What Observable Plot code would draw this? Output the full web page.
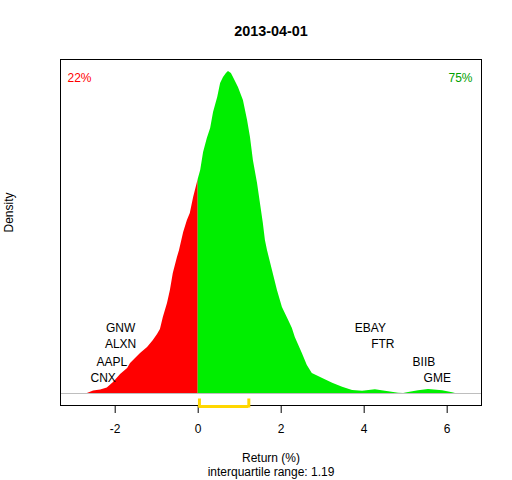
<!DOCTYPE html>
<html>
<head>
<meta charset="utf-8">
<script src="https://cdn.jsdelivr.net/npm/d3@7"></script>
<script src="https://cdn.jsdelivr.net/npm/@observablehq/plot@0.6"></script>
<style>
  html, body { margin: 0; padding: 0; background: white; }
</style>
</head>
<body>
<div id="chart"></div>
<script>
// Density of returns (%) on 2013-04-01
const returns = [-2.67, -2.52, -2.35, -2.19, -2.04, -1.87, -1.70, -1.63, -1.51, -1.39, -1.22, -1.08, -0.98, -0.91, -0.84, -0.79, -0.74, -0.67, -0.60, -0.50, -0.45, -0.35, -0.26, -0.19, -0.11, 0.00,
  0.06, 0.13, 0.22, 0.30, 0.37, 0.47, 0.54, 0.61, 0.68, 0.73, 0.80, 0.85, 0.97, 1.09, 1.19, 1.26, 1.33, 1.43, 1.50, 1.57, 1.62, 1.67, 1.79, 1.91, 2.03, 2.18, 2.27, 2.34, 2.51, 2.63, 2.75, 3.00, 3.24, 3.48, 3.72, 3.96, 4.27, 4.59, 4.83, 4.95, 5.07, 5.31, 5.55, 5.89, 6.13, 6.20];
const density = [0, 0.0033, 0.0046, 0.0072, 0.0143, 0.0248, 0.0326, 0.0391, 0.0457, 0.0522, 0.0600, 0.0691, 0.0770, 0.0835, 0.0991, 0.1083, 0.1174, 0.1343, 0.1565, 0.1774, 0.1865, 0.2100, 0.2256, 0.2348, 0.2556, 0.2791,
  0.2909, 0.3143, 0.3326, 0.3456, 0.3665, 0.3861, 0.4043, 0.4122, 0.4174, 0.4200, 0.4174, 0.4122, 0.3991, 0.3822, 0.3561, 0.3339, 0.3039, 0.2739, 0.2478, 0.2217, 0.1996, 0.1865, 0.1604, 0.1343, 0.1122, 0.0952, 0.0848, 0.0730, 0.0522, 0.0365, 0.0261, 0.0196, 0.0134, 0.0082, 0.0039, 0.0030, 0.0048, 0.0022, 0.0004, 0, 0.0013, 0.0035, 0.0052, 0.0035, 0.0009, 0];

const leftTickers = ["GNW", "ALXN", "AAPL", "CNX"];
const leftX = [-1.87, -1.87, -2.08, -2.29];
const rightTickers = ["EBAY", "FTR", "BIIB", "GME"];
const rightX = [4.15, 4.45, 5.44, 5.76];
const labelY = [0.085, 0.064, 0.041, 0.020];

const xTicks = [-2, 0, 2, 4, 6];
const pctBelow = "22%";
const pctAbove = "75%";
const q1 = 0.03, q3 = 1.22;
const iqrText = "interquartile range: 1.19";
const title = "2013-04-01";
const xLabel = "Return (%)";
const yLabel = "Density";

const xDomain = [-3.318, 6.827];
const yDomain = [-0.01565, 0.43565];

const pts = returns.map((x, i) => ({x, y: density[i]}));
const neg = pts.filter(d => d.x <= 0);
const pos = pts.filter(d => d.x >= 0);
const leftLabels = leftTickers.map((t, i) => ({t, x: leftX[i], y: labelY[i]}));
const rightLabels = rightTickers.map((t, i) => ({t, x: rightX[i], y: labelY[i]}));

const font = "'Liberation Sans', Arial, Helvetica, sans-serif";

const chart = Plot.plot({
  width: 512,
  height: 480,
  marginLeft: 60,
  marginRight: 31,
  marginTop: 59,
  marginBottom: 75,
  style: {fontFamily: font, fontSize: "12px", background: "white", color: "black"},
  x: {domain: xDomain},
  y: {domain: yDomain, axis: null},
  marks: [
    Plot.areaY(neg, {x: "x", y: "y", fill: "#FF0000"}),
    Plot.areaY(pos, {x: "x", y: "y", fill: "#00EE00"}),
    Plot.ruleY([0], {stroke: "#BEBEBE"}),
    Plot.frame({stroke: "black"}),
    Plot.axisX({ticks: xTicks, tickSize: 8, tickPadding: 11, tickFormat: d => String(d), fontSize: 12, label: null}),
    Plot.ruleX([q1, q3], {insetTop: 339.5, insetBottom: -2.5, stroke: "gold", strokeWidth: 3}),
    Plot.ruleY([{y: yDomain[0], x1: q1, x2: q3}], {y: "y", x1: "x1", x2: "x2", dy: 1, stroke: "gold", strokeWidth: 3}),
    Plot.text(leftLabels, {x: "x", y: "y", text: "t", fill: "black", fontSize: 12}),
    Plot.text(rightLabels, {x: "x", y: "y", text: "t", fill: "black", fontSize: 12}),
    Plot.text([pctBelow], {text: d => d, frameAnchor: "top-left", dx: 7, dy: 18.7, textAnchor: "start", lineAnchor: "middle", fill: "#FF0000", fontSize: 12}),
    Plot.text([pctAbove], {text: d => d, frameAnchor: "top-right", dx: -9, dy: 18.7, textAnchor: "end", lineAnchor: "middle", fill: "#00A000", fontSize: 12}),
    Plot.text([title], {text: d => d, frameAnchor: "top", dy: -28, lineAnchor: "middle", fontWeight: "bold", fontSize: 14.4, fill: "black"}),
    Plot.text([xLabel], {text: d => d, frameAnchor: "bottom", dy: 53, lineAnchor: "middle", fontSize: 12, fill: "black"}),
    Plot.text([iqrText], {text: d => d, frameAnchor: "bottom", dy: 66.5, lineAnchor: "middle", fontSize: 12, fill: "black"}),
    Plot.text([yLabel], {text: d => d, frameAnchor: "left", dx: -51, rotate: -90, lineAnchor: "middle", fontSize: 12, fill: "black"})
  ]
});
document.getElementById("chart").appendChild(chart);
</script>
</body>
</html>
